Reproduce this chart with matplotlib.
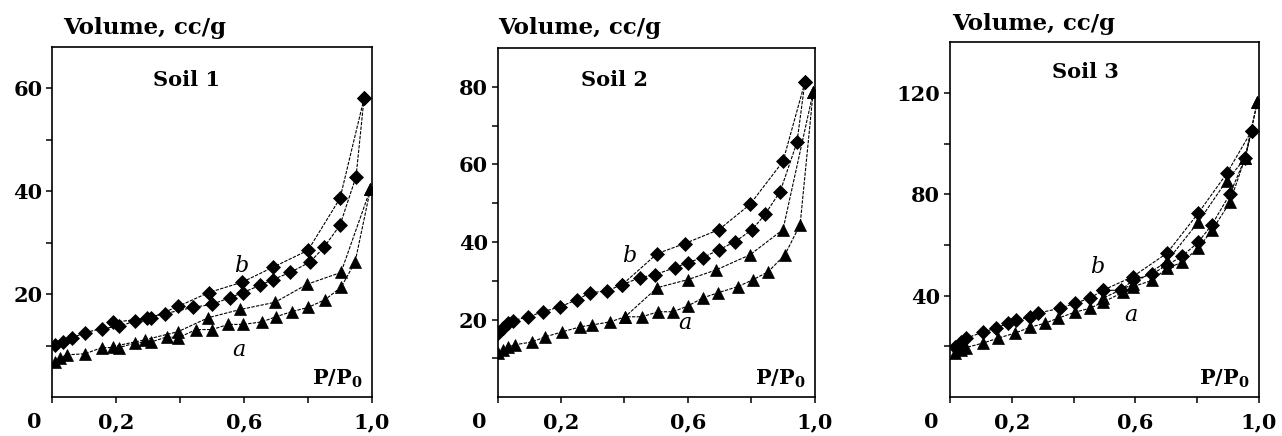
import matplotlib
matplotlib.use("Agg")
import matplotlib.pyplot as plt
from matplotlib.transforms import ScaledTranslation

plt.rcParams['font.family'] = ['DejaVu Serif']
plt.rcParams['mathtext.fontset'] = 'dejavuserif'

# ---- data (P/P0, volume cc/g) ----
# Soil 1
s1_b_ads_x = [0.009, 0.034, 0.063, 0.103, 0.156, 0.21, 0.26, 0.297, 0.353, 0.44, 0.50, 0.556,
              0.597, 0.65, 0.69, 0.744, 0.806, 0.85, 0.90, 0.95, 0.975]
s1_b_ads_y = [10.2, 10.7, 11.5, 12.5, 13.3, 13.7, 14.8, 15.4, 16.2, 17.4, 18.0, 19.3,
              20.3, 21.7, 22.8, 24.2, 26.2, 29.1, 33.4, 42.8, 58.0]
s1_b_des_x = [0.975, 0.90, 0.80, 0.69, 0.594, 0.49, 0.394, 0.31, 0.19]
s1_b_des_y = [58.0, 38.6, 28.5, 25.2, 22.3, 20.3, 17.6, 15.4, 14.5]
s1_a_ads_x = [0.009, 0.025, 0.047, 0.103, 0.156, 0.21, 0.26, 0.31, 0.36, 0.394, 0.45, 0.50,
              0.55, 0.597, 0.656, 0.70, 0.75, 0.80, 0.853, 0.903, 0.947, 0.995]
s1_a_ads_y = [6.8, 7.6, 8.2, 8.4, 9.6, 9.6, 10.5, 10.7, 11.7, 11.5, 13.1, 13.1,
              14.1, 14.1, 14.6, 15.6, 16.6, 17.4, 18.9, 21.3, 26.2, 40.4]
s1_a_des_x = [0.995, 0.903, 0.797, 0.697, 0.588, 0.488, 0.394, 0.29, 0.19]
s1_a_des_y = [40.4, 24.2, 21.9, 18.4, 17.0, 15.4, 12.7, 11.1, 9.8]

# Soil 2
s2_b_ads_x = [0.0, 0.017, 0.033, 0.048, 0.096, 0.143, 0.197, 0.25, 0.292, 0.345, 0.393, 0.449,
              0.497, 0.56, 0.60, 0.648, 0.698, 0.749, 0.803, 0.843, 0.891, 0.944, 0.969]
s2_b_ads_y = [16.5, 17.8, 19.1, 19.7, 20.7, 22.0, 23.3, 25.1, 26.9, 27.4, 29.0, 30.8,
              31.6, 33.4, 34.7, 36.0, 38.0, 40.1, 43.2, 47.1, 53.0, 65.7, 81.2]
s2_b_des_x = [0.969, 0.90, 0.796, 0.698, 0.59, 0.503, 0.393]
s2_b_des_y = [81.2, 60.8, 49.7, 43.2, 39.6, 37.0, 29.0]
s2_a_ads_x = [0.0, 0.017, 0.033, 0.055, 0.108, 0.149, 0.203, 0.26, 0.298, 0.355, 0.402, 0.455,
              0.506, 0.553, 0.60, 0.648, 0.695, 0.758, 0.806, 0.853, 0.906, 0.954, 0.995]
s2_a_ads_y = [11.4, 12.2, 12.9, 13.5, 14.2, 15.5, 16.8, 18.1, 18.6, 19.4, 20.7, 20.7,
              22.0, 22.0, 23.5, 25.6, 26.9, 28.5, 30.3, 32.3, 36.7, 44.5, 78.6]
s2_a_des_x = [0.995, 0.90, 0.796, 0.689, 0.60, 0.503, 0.402]
s2_a_des_y = [78.6, 43.2, 36.7, 32.8, 30.3, 28.2, 20.7]

# Soil 3
s3_b_ads_x = [0.016, 0.036, 0.052, 0.107, 0.149, 0.188, 0.214, 0.259, 0.285, 0.356, 0.405, 0.453,
              0.495, 0.553, 0.592, 0.654, 0.702, 0.751, 0.803, 0.848, 0.906, 0.955, 0.977]
s3_b_ads_y = [19.7, 21.7, 23.2, 25.6, 27.2, 29.1, 30.3, 31.5, 33.1, 35.0, 37.0, 39.0,
              42.1, 42.1, 46.1, 48.5, 52.0, 55.5, 61.0, 68.0, 80.0, 94.1, 105.1]
s3_b_des_x = [0.977, 0.896, 0.803, 0.702, 0.592, 0.495]
s3_b_des_y = [105.1, 88.2, 72.4, 56.7, 47.5, 42.1]
s3_a_ads_x = [0.016, 0.036, 0.052, 0.107, 0.155, 0.21, 0.259, 0.307, 0.35, 0.405, 0.453, 0.495,
              0.56, 0.592, 0.654, 0.702, 0.751, 0.803, 0.848, 0.906, 0.955, 0.995]
s3_a_ads_y = [17.5, 18.5, 19.5, 21.3, 23.2, 25.2, 27.5, 29.1, 31.1, 33.5, 35.0, 37.4,
              41.3, 43.5, 46.0, 50.8, 53.1, 58.7, 65.7, 76.8, 94.1, 116.5]
s3_a_des_x = [0.995, 0.955, 0.896, 0.803, 0.702, 0.592, 0.495]
s3_a_des_y = [116.5, 94.1, 85.4, 68.9, 53.5, 44.5, 39.0]

soil_names = ['Soil 1', 'Soil 2', 'Soil 3']
y_limits = [68, 90, 140]
y_major = [[20, 40, 60], [20, 40, 60, 80], [40, 80, 120]]
y_minor = [[10, 30, 50], [10, 30, 50, 70], [20, 60, 100]]
x_ticks = [0, 0.2, 0.4, 0.6, 0.8, 1.0]
x_labels = ['0', '0,2', '', '0,6', '', '1,0']
b_label_pos = [(0.59, 25.5), (0.414, 36.4), (0.475, 51.2)]
a_label_pos = [(0.584, 9.2), (0.59, 19.0), (0.585, 32.4)]

curves = [
    [(s1_b_ads_x, s1_b_ads_y, 'D'), (s1_b_des_x, s1_b_des_y, 'D'),
     (s1_a_ads_x, s1_a_ads_y, '^'), (s1_a_des_x, s1_a_des_y, '^')],
    [(s2_b_ads_x, s2_b_ads_y, 'D'), (s2_b_des_x, s2_b_des_y, 'D'),
     (s2_a_ads_x, s2_a_ads_y, '^'), (s2_a_des_x, s2_a_des_y, '^')],
    [(s3_b_ads_x, s3_b_ads_y, 'D'), (s3_b_des_x, s3_b_des_y, 'D'),
     (s3_a_ads_x, s3_a_ads_y, '^'), (s3_a_des_x, s3_a_des_y, '^')],
]

# axes boxes in figure fractions (left, bottom, width, height)
boxes = [(0.0406, 0.0894, 0.2496, 0.803),
         (0.3882, 0.0894, 0.2473, 0.800),
         (0.7410, 0.0894, 0.2410, 0.814)]
title_x = [0.034, 0.0, 0.006]
title_y = [1.054, 1.057, 1.05]
soil_xy = [(0.42, 0.906), (0.37, 0.908), (0.437, 0.915)]

fig = plt.figure(figsize=(12.82, 4.36), dpi=100, facecolor='white')

for i in range(3):
    ax = fig.add_axes(boxes[i])
    for xs, ys, mk in curves[i]:
        ax.plot(xs, ys, color='black', lw=0.8, linestyle=(0, (3, 1.2)))
        ax.plot(xs, ys, linestyle='none', marker=mk, color='black',
                markersize=7.5 if mk == 'D' else 9, markeredgewidth=0.5)

    ax.set_xlim(0, 1.0)
    ax.set_ylim(0, y_limits[i])
    ax.set_xticks(x_ticks)
    ax.set_xticklabels(x_labels)
    ax.set_yticks(y_major[i])
    ax.set_yticks(y_minor[i], minor=True)
    ax.tick_params(which='both', direction='out', length=4, width=1.1,
                   labelsize=15, color='black')
    ax.tick_params(axis='x', pad=7)
    ax.tick_params(axis='y', pad=3)
    for lab in ax.get_xticklabels() + ax.get_yticklabels():
        lab.set_fontweight('bold')
    first = ax.get_xticklabels()[0]
    first.set_ha('right')
    first.set_transform(first.get_transform() +
                        ScaledTranslation(-0.11, 0, fig.dpi_scale_trans))
    for sp in ax.spines.values():
        sp.set_linewidth(1.2)

    ax.text(title_x[i], title_y[i], 'Volume, cc/g', transform=ax.transAxes,
            ha='left', va='center', fontsize=16.5, fontweight='bold')
    ax.text(soil_xy[i][0], soil_xy[i][1], soil_names[i], transform=ax.transAxes,
            ha='center', va='center', fontsize=15, fontweight='bold')
    ax.text(0.97, 0.035, r'P/P$_\mathbf{0}$', transform=ax.transAxes,
            ha='right', va='baseline', fontsize=15, fontweight='bold')
    ax.text(b_label_pos[i][0], b_label_pos[i][1], 'b', ha='center', va='center',
            fontsize=16, style='italic')
    ax.text(a_label_pos[i][0], a_label_pos[i][1], 'a', ha='center', va='center',
            fontsize=16, style='italic')

fig.savefig('out.png', dpi=100, facecolor='white')
